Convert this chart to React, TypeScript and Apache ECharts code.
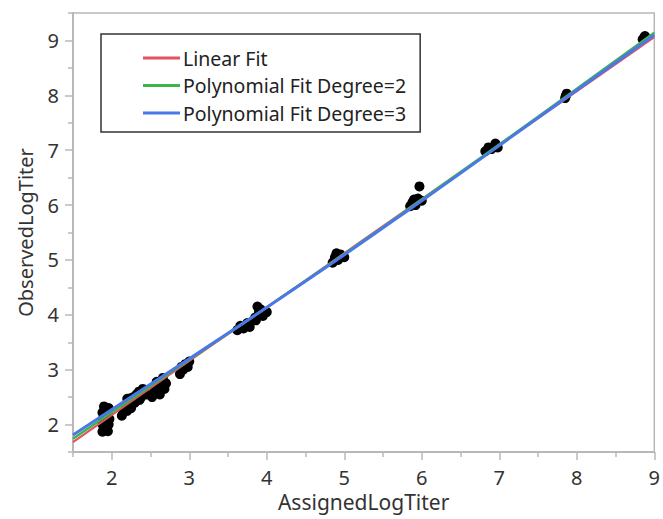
import React, { useEffect, useRef } from "react";
import * as echarts from "echarts";

const xMajorTicks = [2, 3, 4, 5, 6, 7, 8, 9];
const xMinorTicks = [1.5, 2.5, 3.5, 4.5, 5.5, 6.5, 7.5, 8.5];
const yMajorTicks = [2, 3, 4, 5, 6, 7, 8, 9];
const yMinorTicks = [1.5, 2.5, 3.5, 4.5, 5.5, 6.5, 7.5, 8.5, 9.5];

const assigned = [
  1.88, 1.9, 1.95, 1.88, 1.92, 1.96, 1.89, 1.94, 1.97, 1.88, 1.92, 1.96, 1.9, 1.95, 1.9, 1.93, 1.89,
  2.13, 2.15, 2.2, 2.18, 2.22, 2.25, 2.28, 2.3, 2.32, 2.35, 2.38, 2.4, 2.42, 2.45, 2.36, 2.24, 2.2,
  2.52, 2.55, 2.6, 2.62, 2.65, 2.68, 2.7, 2.58, 2.66,
  2.88, 2.92, 2.95, 2.98, 3.0, 2.9,
  3.62, 3.66, 3.7, 3.75, 3.78,
  3.85, 3.88, 3.9, 3.92, 3.95, 4.0, 3.86,
  4.85, 4.88, 4.92, 4.95, 5.0, 4.9,
  5.85, 5.88, 5.92, 5.95, 6.0, 5.97, 5.9,
  6.82, 6.86, 6.9, 6.95, 6.98,
  7.85, 7.87, 7.86,
  8.85, 8.88, 8.87,
];
const observed = [
  1.87, 1.92, 1.88, 2.0, 2.05, 2.0, 2.12, 2.15, 2.1, 2.22, 2.25, 2.3, 2.33, 2.2, 1.96, 2.28, 2.07,
  2.16, 2.22, 2.25, 2.35, 2.42, 2.3, 2.5, 2.4, 2.55, 2.6, 2.5, 2.65, 2.58, 2.55, 2.45, 2.48, 2.47,
  2.5, 2.6, 2.7, 2.55, 2.8, 2.65, 2.75, 2.78, 2.85,
  2.92, 3.0, 3.1, 3.05, 3.15, 3.05,
  3.72, 3.8, 3.75, 3.85, 3.78,
  3.95, 4.15, 4.05, 4.1, 3.98, 4.05, 3.9,
  4.95, 5.05, 5.0, 5.1, 5.05, 5.12,
  5.98, 6.05, 6.0, 6.12, 6.08, 6.34, 6.1,
  6.98, 7.05, 7.02, 7.12, 7.05,
  7.95, 8.03, 7.99,
  9.02, 9.08, 9.05,
];

const fitX = [1.5, 3, 4.5, 6, 7.5, 9];
const linearFit = [1.68, 3.16, 4.63, 6.11, 7.58, 9.06];
const quadFit = [1.74, 3.18, 4.62, 6.1, 7.61, 9.14];
const cubicFit = [1.81, 3.2, 4.61, 6.08, 7.59, 9.1];

const fitNames = ["Linear Fit", "Polynomial Fit Degree=2", "Polynomial Fit Degree=3"];
const fitColors = ["#e5505e", "#3cb54a", "#4a78e6"];
const fitWidths = [2, 2.5, 3];

const FONT = "Noto Sans";
const TEXT = "#333333";
const AXIS = "#b8b8b8";

export default function App() {
  const ref = useRef<HTMLDivElement>(null);
  useEffect(() => {
    if (!ref.current) return;
    const chart = echarts.init(ref.current, null, { renderer: "svg" });
    const scatter = assigned.map((x, i) => [x, observed[i]]);
    const fits = [linearFit, quadFit, cubicFit];
    chart.setOption({
      animation: false,
      textStyle: { fontFamily: FONT },
      grid: {
        left: 73,
        right: 6,
        top: 13,
        bottom: 67,
        show: true,
        borderColor: AXIS,
        borderWidth: 1.5,
        backgroundColor: "#fff",
      },
      legend: {
        data: fitNames,
        orient: "vertical",
        left: 101,
        top: 34,
        icon: "rect",
        itemWidth: 37,
        itemHeight: 3,
        itemGap: 7.5,
        padding: [14, 14, 9, 42],
        borderColor: "#333",
        borderWidth: 1.5,
        textStyle: { fontFamily: FONT, fontSize: 19.5, color: "#222", lineHeight: 20, padding: [0, 0, 0, -2] },
      },
      xAxis: [
        {
          type: "value",
          min: 1.5,
          max: 9,
          name: "AssignedLogTiter",
          nameLocation: "middle",
          nameGap: 31,
          nameTextStyle: { fontFamily: FONT, fontSize: 21, color: TEXT },
          axisLine: { show: true, lineStyle: { color: AXIS, width: 2 } },
          axisTick: { show: true, length: 8, customValues: xMajorTicks, lineStyle: { color: AXIS, width: 1.5 } },
          axisLabel: { customValues: xMajorTicks, fontFamily: FONT, fontSize: 20, color: TEXT, margin: 15 },
          splitLine: { show: false },
        },
        {
          type: "value",
          min: 1.5,
          max: 9,
          position: "bottom",
          axisLine: { show: false },
          axisTick: { show: true, length: 5, customValues: xMinorTicks, lineStyle: { color: AXIS, width: 1.5 } },
          axisLabel: { show: false },
          splitLine: { show: false },
        },
      ],
      yAxis: [
        {
          type: "value",
          min: 1.5,
          max: 9.5,
          name: "ObservedLogTiter",
          nameLocation: "middle",
          nameGap: 38,
          nameTextStyle: { fontFamily: FONT, fontSize: 20, color: TEXT },
          axisLine: { show: true, lineStyle: { color: AXIS, width: 2 } },
          axisTick: { show: true, length: 8, customValues: yMajorTicks, lineStyle: { color: AXIS, width: 1.5 } },
          axisLabel: { customValues: yMajorTicks, fontFamily: FONT, fontSize: 20, color: TEXT, margin: 14 },
          splitLine: { show: false },
        },
        {
          type: "value",
          min: 1.5,
          max: 9.5,
          position: "left",
          axisLine: { show: false },
          axisTick: { show: true, length: 5, customValues: yMinorTicks, lineStyle: { color: AXIS, width: 1.5 } },
          axisLabel: { show: false },
          splitLine: { show: false },
        },
      ],
      series: [
        {
          type: "scatter",
          name: "Observed",
          data: scatter,
          symbol: "circle",
          symbolSize: 10,
          itemStyle: { color: "#000", opacity: 1 },
          z: 2,
        },
        ...fitNames.map((name, k) => ({
          type: "line",
          name,
          data: fitX.map((x, i) => [x, fits[k][i]]),
          smooth: true,
          showSymbol: false,
          symbol: "none",
          itemStyle: { color: fitColors[k] },
          lineStyle: { color: fitColors[k], width: fitWidths[k] },
          z: 3 + k,
        })),
      ],
    });
    return () => chart.dispose();
  }, []);
  return <div ref={ref} style={{ width: 663, height: 519, position: "absolute", left: 0, top: 0 }} />;
}
